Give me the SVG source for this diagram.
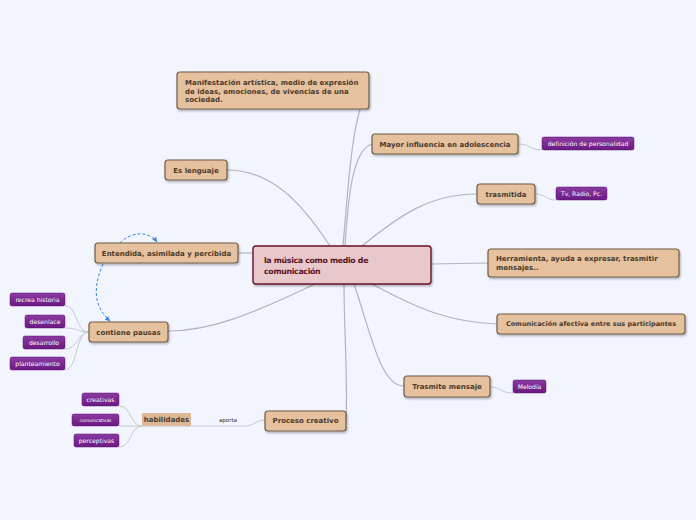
<svg xmlns="http://www.w3.org/2000/svg" width="696" height="520" viewBox="0 0 696 520">
<defs>
<linearGradient id="pg" x1="0" y1="0" x2="0" y2="1"><stop offset="0" stop-color="#8a3aa0"/><stop offset="1" stop-color="#6a1a82"/></linearGradient>
<marker id="ah" viewBox="0 0 10 10" refX="8" refY="5" markerWidth="6" markerHeight="6" orient="auto"><path d="M0,1 L9,5 L0,9 z" fill="#3d86d8"/></marker>
<filter id="sh" x="-10%" y="-20%" width="130%" height="160%"><feDropShadow dx="1" dy="1.5" stdDeviation="0.8" flood-color="#000" flood-opacity="0.3"/></filter>
</defs>
<style>
.bg{fill:#f3f5fe}
.n{fill:#e6c19e;stroke:#6e5c4c;stroke-width:1.2;filter:url(#sh)}
.t{font-family:"DejaVu Sans",Verdana,sans-serif;font-weight:bold;font-size:7px;fill:#4a3a2c}
.p{fill:url(#pg);stroke:#5a1070;stroke-width:0.5}
.pt{font-family:"DejaVu Sans",Verdana,sans-serif;font-size:6.1px;fill:#ffffff;text-anchor:middle}
.c{fill:none;stroke:#b2b4bc;stroke-width:1.2}
.c2{fill:none;stroke:#c6c8d0;stroke-width:1}
.d{fill:none;stroke:#3d86d8;stroke-width:1;stroke-dasharray:3,2;marker-end:url(#ah)}
.ct{font-family:"DejaVu Sans",Verdana,sans-serif;font-weight:bold;font-size:7.8px;letter-spacing:-0.3px;fill:#5a1020}
</style>
<rect class="bg" width="696" height="520"/>
<g id="connectors">
<path class="c" d="M343,246 C348,190 352,110 369,90"/>
<path class="c" d="M345,246 C348,200 352,150 372,144"/>
<path class="c" d="M362,246 C400,215 430,194 477,194"/>
<path class="c" d="M431,264 L488,263"/>
<path class="c" d="M372,284 C420,310 450,322 497,324"/>
<path class="c" d="M354,284 C370,330 380,386 404,386"/>
<path class="c" d="M344,284 C344,330 348,380 346,421"/>
<path class="c" d="M315,284 C250,315 210,331 168,331"/>
<path class="c" d="M238,253 L253,253"/>
<path class="c" d="M330,246 C300,200 270,170 227,170"/>
<path class="c2" d="M518,144 C530,144 530,150 542,150"/>
<path class="c2" d="M535,194 C546,194 545,200 556,200"/>
<path class="c2" d="M490,387 C502,387 500,393 513,393"/>
<path class="c2" d="M89,332 C75,332 78,306 65,306"/>
<path class="c2" d="M89,332 C78,332 78,328 65,328"/>
<path class="c2" d="M89,332 C78,332 78,349 65,349"/>
<path class="c2" d="M89,332 C75,332 78,370 65,370"/>
<path class="c2" d="M265,420 C255,420 255,426 245,426 L142,426"/>
<path class="c2" d="M142,426 C130,426 132,406 119,406"/>
<path class="c2" d="M142,426 L119,426"/>
<path class="c2" d="M142,426 C130,426 132,447 119,447"/>
<path class="d" d="M120,243 C130,232 148,230 157,242"/>
<path class="d" d="M103,264 C94,285 92,305 110,321"/>
</g>
<g id="center">
<rect x="253" y="246" width="178" height="38" rx="3" fill="#e8c8cd" stroke="#6a1428" stroke-width="1.4" filter="url(#sh)"/>
<text class="ct" x="264" y="263">la música como medio de</text>
<text class="ct" x="264" y="274">comunicación</text>
</g>
<g id="manifestacion">
<rect class="n" x="177" y="72" width="192" height="37" rx="3"/>
<text class="t" x="185" y="85">Manifestación artística, medio de expresión</text>
<text class="t" x="185" y="94">de ideas, emociones, de vivencias de una</text>
<text class="t" x="185" y="102">sociedad.</text>
</g>
<g id="mayor">
<rect class="n" x="372" y="134" width="146" height="20" rx="3"/>
<text class="t" x="445" y="147" text-anchor="middle">Mayor influencia en adolescencia</text>
</g>
<g id="definicion">
<rect class="p" x="542" y="137" width="92" height="13" rx="2"/>
<text class="pt" x="588" y="146">definición de personalidad</text>
</g>
<g id="trasmitida">
<rect class="n" x="477" y="184" width="58" height="20" rx="3"/>
<text class="t" x="506" y="197" text-anchor="middle">trasmitida</text>
</g>
<g id="tv">
<rect class="p" x="556" y="187" width="51" height="13" rx="2"/>
<text class="pt" x="581.5" y="196">Tv, Radio, Pc.</text>
</g>
<g id="herramienta">
<rect class="n" x="488" y="249" width="191" height="28" rx="3"/>
<text class="t" x="496" y="261">Herramienta, ayuda a expresar, trasmitir</text>
<text class="t" x="496" y="270">mensajes..</text>
</g>
<g id="comunicacion">
<rect class="n" x="497" y="314" width="188" height="20" rx="3"/>
<text class="t" x="591" y="326" text-anchor="middle" style="font-size:6.5px">Comunicación afectiva entre sus participantes</text>
</g>
<g id="trasmite">
<rect class="n" x="404" y="376" width="86" height="21" rx="3"/>
<text class="t" x="447" y="389" text-anchor="middle">Trasmite mensaje</text>
</g>
<g id="melodia">
<rect class="p" x="513" y="380" width="33" height="13" rx="2"/>
<text class="pt" x="529.5" y="389">Melodía</text>
</g>
<g id="proceso">
<rect class="n" x="265" y="411" width="81" height="20" rx="3"/>
<text class="t" x="305.5" y="423" text-anchor="middle">Proceso creativo</text>
</g>
<g id="aporta">
<text x="228" y="422" font-family="DejaVu Sans,Verdana,sans-serif" font-size="5.5" fill="#333" text-anchor="middle">aporta</text>
</g>
<g id="habilidades">
<rect x="142" y="413" width="49" height="13" rx="1" fill="#dcb896"/>
<text class="t" x="166.5" y="422" text-anchor="middle">habilidades</text>
</g>
<g id="creativas">
<rect class="p" x="82" y="393" width="37" height="13" rx="2"/>
<text class="pt" x="100.5" y="402">creativas</text>
</g>
<g id="comunicativas">
<rect class="p" x="72" y="414" width="47" height="12" rx="2"/>
<text class="pt" x="95.5" y="422" style="font-size:4.4px">comunicativas</text>
</g>
<g id="perceptivas">
<rect class="p" x="74" y="434" width="45" height="13" rx="2"/>
<text class="pt" x="96.5" y="443">perceptivas</text>
</g>
<g id="lenguaje">
<rect class="n" x="165" y="160" width="62" height="20" rx="3"/>
<text class="t" x="196" y="173" text-anchor="middle">Es lenguaje</text>
</g>
<g id="entendida">
<rect class="n" x="95" y="243" width="143" height="20" rx="3"/>
<text class="t" x="166.5" y="256" text-anchor="middle">Entendida, asimilada y percibida</text>
</g>
<g id="pausas">
<rect class="n" x="89" y="322" width="79" height="20" rx="3"/>
<text class="t" x="128.5" y="335" text-anchor="middle">contiene pausas</text>
</g>
<g id="recrea">
<rect class="p" x="10" y="293" width="55" height="13" rx="2"/>
<text class="pt" x="37.5" y="302">recrea historia</text>
</g>
<g id="desenlace">
<rect class="p" x="25" y="315" width="40" height="13" rx="2"/>
<text class="pt" x="45" y="324">desenlace</text>
</g>
<g id="desarrollo">
<rect class="p" x="23" y="336" width="42" height="13" rx="2"/>
<text class="pt" x="44" y="345">desarrollo</text>
</g>
<g id="planteamiento">
<rect class="p" x="10" y="357" width="55" height="13" rx="2"/>
<text class="pt" x="37.5" y="366">planteamiento</text>
</g>
</svg>
